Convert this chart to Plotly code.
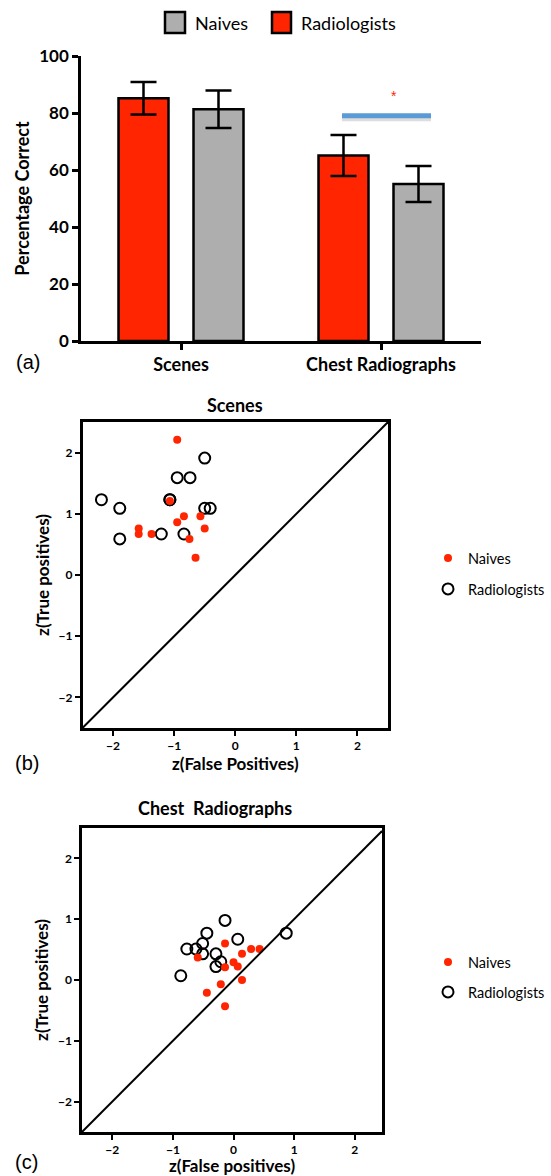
import plotly.graph_objects as go

W, H = 551, 1176

def fx(px):
    return px / W

def fy(py):
    return 1 - py / H

# ---------------- data ----------------
categories = ["Scenes", "Chest Radiographs"]
radiologists_pct = [85.2, 65.1]
radiologists_err = [5.7, 7.2]
naives_pct = [81.3, 55.1]
naives_err = [6.6, 6.3]
pct_ticks = [0, 20, 40, 60, 80, 100]

scenes_naive_fp = [-0.95, -1.07, -0.84, -0.57, -0.95, -0.50, -1.58, -1.58, -1.37, -0.75, -0.65]
scenes_naive_tp = [2.21, 1.21, 0.96, 0.96, 0.86, 0.76, 0.76, 0.67, 0.67, 0.59, 0.28]
scenes_rad_fp = [-0.50, -0.95, -0.74, -2.19, -1.07, -1.07, -1.89, -0.50, -0.41, -1.89, -1.21, -0.84]
scenes_rad_tp = [1.91, 1.59, 1.59, 1.23, 1.23, 1.23, 1.09, 1.09, 1.09, 0.59, 0.67, 0.67]

chest_naive_fp = [-0.14, 0.29, 0.43, 0.14, -0.59, 0.00, 0.07, -0.14, 0.14, -0.21, -0.44, -0.14]
chest_naive_tp = [0.60, 0.51, 0.51, 0.43, 0.37, 0.29, 0.22, 0.21, 0.00, -0.07, -0.21, -0.43]
chest_rad_fp = [-0.14, -0.44, 0.07, 0.87, -0.51, -0.77, -0.62, -0.51, -0.29, -0.21, -0.29, -0.87]
chest_rad_tp = [0.98, 0.77, 0.67, 0.77, 0.60, 0.51, 0.51, 0.43, 0.43, 0.30, 0.22, 0.07]

z_ticks = [-2, -1, 0, 1, 2]

RED = "#FF2500"
GRAY = "#AEAEAF"
BOLD = "Lato"

fig = go.Figure()

# ---------------- panel (a) bars ----------------
fig.add_trace(go.Bar(
    x=categories, y=radiologists_pct, name="Radiologists",
    marker=dict(color=RED, line=dict(color="black", width=2.5)),
    error_y=dict(type="data", array=radiologists_err, color="black", thickness=2.5, width=13),
    xaxis="x", yaxis="y", showlegend=False,
))
fig.add_trace(go.Bar(
    x=categories, y=naives_pct, name="Naives",
    marker=dict(color=GRAY, line=dict(color="black", width=2.5)),
    error_y=dict(type="data", array=naives_err, color="black", thickness=2.5, width=13),
    xaxis="x", yaxis="y", showlegend=False,
))

# ---------------- panel (b) scatter ----------------
fig.add_trace(go.Scatter(
    x=scenes_rad_fp, y=scenes_rad_tp, mode="markers", name="Radiologists",
    marker=dict(symbol="circle-open", size=11, color="black", line=dict(width=2, color="black")),
    xaxis="x2", yaxis="y2", legend="legend3",
))
fig.add_trace(go.Scatter(
    x=scenes_naive_fp, y=scenes_naive_tp, mode="markers", name="Naives",
    marker=dict(symbol="circle", size=8, color=RED),
    xaxis="x2", yaxis="y2", legend="legend2",
))

# ---------------- panel (c) scatter ----------------
fig.add_trace(go.Scatter(
    x=chest_rad_fp, y=chest_rad_tp, mode="markers", name="Radiologists",
    marker=dict(symbol="circle-open", size=11, color="black", line=dict(width=2, color="black")),
    xaxis="x3", yaxis="y3", legend="legend5",
))
fig.add_trace(go.Scatter(
    x=chest_naive_fp, y=chest_naive_tp, mode="markers", name="Naives",
    marker=dict(symbol="circle", size=8, color=RED),
    xaxis="x3", yaxis="y3", legend="legend4",
))

axis_common = dict(showgrid=False, zeroline=False, showline=True, linecolor="black",
                   ticks="outside", tickcolor="black", automargin=False)

fig.update_layout(
    template="none",
    width=W, height=H,
    margin=dict(l=0, r=0, t=0, b=0, autoexpand=False),
    paper_bgcolor="white", plot_bgcolor="white",
    barmode="group", bargap=0.25, bargroupgap=1/3,
    font=dict(family=BOLD, color="black"),
    xaxis=dict(axis_common, domain=[fx(81), fx(481)], range=[-0.5, 1.5], anchor="y",
               linewidth=2.5, ticklen=6, tickwidth=2.5,
               tickfont=dict(family=BOLD, size=18, weight=700)),
    yaxis=dict(axis_common, domain=[fy(341), fy(56)], range=[0, 100], anchor="x",
               linewidth=2.5, ticklen=6, tickwidth=2.5, tickvals=pct_ticks,
               tickfont=dict(family=BOLD, size=17, weight=700),
               title=dict(text="Percentage Correct", standoff=5,
                          font=dict(family=BOLD, size=18, weight=700))),
    xaxis2=dict(axis_common, domain=[fx(82.5), fx(388)], range=[-2.5, 2.5], anchor="y2",
                mirror=True, linewidth=2.5, ticklen=5, tickwidth=2, tickvals=z_ticks,
                tickfont=dict(family=BOLD, size=12, weight=700),
                title=dict(text="z(False Positives)", standoff=4,
                           font=dict(family=BOLD, size=17, weight=700))),
    yaxis2=dict(axis_common, domain=[fy(728), fy(422)], range=[-2.5, 2.5], anchor="x2",
                mirror=True, linewidth=2.5, ticklen=5, tickwidth=2, tickvals=z_ticks,
                tickfont=dict(family=BOLD, size=12, weight=700),
                title=dict(text="z(True positives)", standoff=5,
                           font=dict(family=BOLD, size=17, weight=700))),
    xaxis3=dict(axis_common, domain=[fx(82), fx(382)], range=[-2.5, 2.45], anchor="y3",
                mirror=True, linewidth=2.5, ticklen=5, tickwidth=2, tickvals=z_ticks,
                tickfont=dict(family=BOLD, size=12, weight=700),
                title=dict(text="z(False positives)", standoff=4,
                           font=dict(family=BOLD, size=17, weight=700))),
    yaxis3=dict(axis_common, domain=[fy(1132), fy(828)], range=[-2.5, 2.5], anchor="x3",
                mirror=True, linewidth=2.5, ticklen=5, tickwidth=2, tickvals=z_ticks,
                tickfont=dict(family=BOLD, size=12, weight=700),
                title=dict(text="z(True positives)", standoff=5,
                           font=dict(family=BOLD, size=17, weight=700))),
)

leg_common = dict(xanchor="left", yanchor="middle", bgcolor="rgba(0,0,0,0)",
                  font=dict(family="Lato", size=14.5, color="black"), itemsizing="trace",
                  borderwidth=0)
fig.update_layout(
    legend2=dict(leg_common, x=fx(428), y=fy(558)),
    legend3=dict(leg_common, x=fx(428), y=fy(589)),
    legend4=dict(leg_common, x=fx(428), y=fy(962)),
    legend5=dict(leg_common, x=fx(428), y=fy(992)),
)

shapes = [
    # significance bar with soft shadow
    dict(type="line", xref="x", yref="y", x0=0.805, x1=1.25, y0=78.2, y1=78.2,
         line=dict(color="rgba(120,120,120,0.25)", width=6)),
    dict(type="line", xref="x", yref="y", x0=0.805, x1=1.25, y0=79, y1=79,
         line=dict(color="#5B9BD5", width=5)),
    # identity lines
    dict(type="line", xref="x2", yref="y2", x0=-2.5, y0=-2.5, x1=2.5, y1=2.5,
         line=dict(color="black", width=2)),
    dict(type="line", xref="x3", yref="y3", x0=-2.5, y0=-2.5, x1=2.45, y1=2.45,
         line=dict(color="black", width=2)),
    # top legend boxes
    dict(type="rect", xref="paper", yref="paper", x0=fx(165), x1=fx(185), y0=fy(33), y1=fy(12),
         fillcolor=GRAY, line=dict(color="black", width=2.5)),
    dict(type="rect", xref="paper", yref="paper", x0=fx(272), x1=fx(291), y0=fy(33), y1=fy(12),
         fillcolor=RED, line=dict(color="black", width=2.5)),
]
fig.update_layout(shapes=shapes)

annotations = [
    dict(text="Naives", x=fx(193), y=fy(23), xref="paper", yref="paper", xanchor="left",
         yanchor="middle", showarrow=False, font=dict(family="Lato", size=18)),
    dict(text="Radiologists", x=fx(299), y=fy(23), xref="paper", yref="paper", xanchor="left",
         yanchor="middle", showarrow=False, font=dict(family="Lato", size=18)),
    dict(text="*", x=1.065, y=86, xref="x", yref="y", showarrow=False,
         font=dict(family="Liberation Sans", size=14, color=RED)),
    dict(text="Scenes", x=fx(235), y=fy(405), xref="paper", yref="paper", showarrow=False,
         xanchor="center", yanchor="middle", font=dict(family=BOLD, size=18, weight=700)),
    dict(text="Chest  Radiographs", x=fx(214.5), y=fy(808), xref="paper", yref="paper",
         showarrow=False, xanchor="center", yanchor="middle",
         font=dict(family=BOLD, size=18, weight=700)),
    dict(text="(a)", x=fx(14), y=fy(362), xref="paper", yref="paper", xanchor="left",
         yanchor="middle", showarrow=False, font=dict(family="Liberation Sans", size=20)),
    dict(text="(b)", x=fx(13), y=fy(763), xref="paper", yref="paper", xanchor="left",
         yanchor="middle", showarrow=False, font=dict(family="Liberation Sans", size=20)),
    dict(text="(c)", x=fx(13), y=fy(1162), xref="paper", yref="paper", xanchor="left",
         yanchor="middle", showarrow=False, font=dict(family="Liberation Sans", size=20)),
]
fig.update_layout(annotations=annotations)

fig.write_html("out.html", config={"displayModeBar": False},
               post_script="document.body.style.margin='0';document.body.style.overflow='hidden';")
